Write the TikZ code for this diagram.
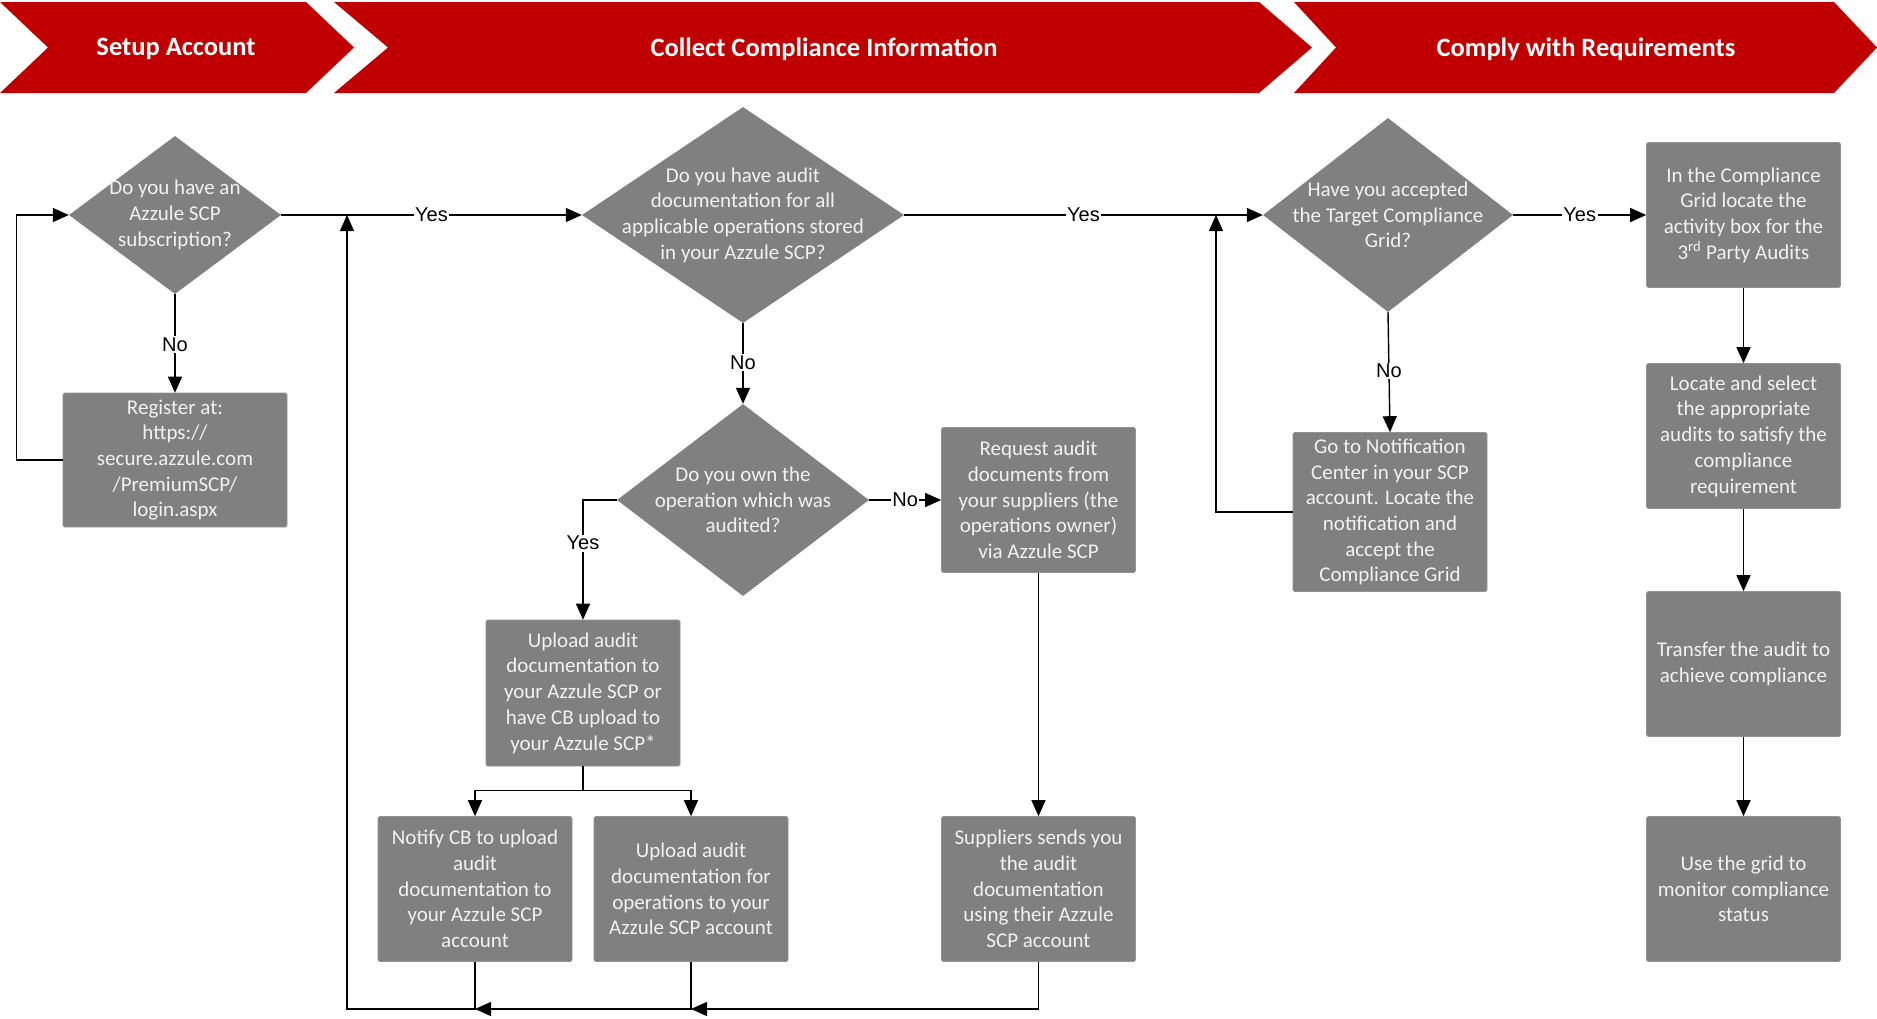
\documentclass[tikz,border=0pt]{standalone}
\usepackage{fontspec}
\setmainfont{Carlito}
\newfontfamily\lblfont{Liberation Sans}
\usetikzlibrary{arrows.meta,shapes.geometric}
\definecolor{hdr}{RGB}{192,0,0}
\definecolor{boxgray}{RGB}{128,128,128}
\definecolor{boxtxt}{RGB}{242,242,242}
\begin{document}
\begin{tikzpicture}[x=1pt,y=-1pt,
  conn/.style={line width=1.4pt, draw=black},
  arr/.style={conn, -{Triangle[length=16pt,width=14pt]}},
  proc/.style={rectangle, rounded corners=1.5pt, fill=boxgray, draw=gray!85, line width=0.6pt, minimum width=194pt, minimum height=145pt, inner sep=0pt, align=center, text=boxtxt, font=\fontsize{21}{25.7}\selectfont},
  dia/.style={diamond, fill=boxgray, inner sep=0pt},
  dtxt/.style={align=center, text=boxtxt, font=\fontsize{21}{25.7}\selectfont},
  lbl/.style={fill=white, inner sep=1.5pt, font=\lblfont\fontsize{20}{23}\selectfont},
  chev/.style={fill=hdr},
  htxt/.style={text=white, font=\bfseries\fontsize{26.5}{30}\selectfont}
]
\useasboundingbox (0,0) rectangle (1877,1018);
\fill[white] (0,0) rectangle (1877,1018);

% header chevrons
\fill[chev] (0,2) -- (306,2) -- (354,47.5) -- (306,93) -- (0,93) -- (48,47.5) -- cycle;
\fill[chev] (334,2) -- (1259,2) -- (1312,47.5) -- (1259,93) -- (334,93) -- (388,47.5) -- cycle;
\fill[chev] (1294,2) -- (1834,2) -- (1877,47.5) -- (1834,93) -- (1294,93) -- (1336,47.5) -- cycle;
\node[htxt] (h1) at (176,49) {Setup Account};
\node[htxt] (h2) at (824,49) {Collect Compliance Information};
\node[htxt] (h3) at (1586,49) {Comply with Requirements};

% diamonds
\node[dia, minimum width=212pt, minimum height=158pt] (d1) at (175,215) {};
\node[dtxt] at (d1.center) {Do you have an\\Azzule SCP\\subscription?};
\node[dia, minimum width=322pt, minimum height=216pt] (d2) at (743,215) {};
\node[dtxt] at (d2.center) {Do you have audit\\documentation for all\\applicable operations stored\\in your Azzule SCP?};
\node[dia, minimum width=252pt, minimum height=192pt] (d3) at (743,500) {};
\node[dtxt] at (d3.center) {Do you own the\\operation which was\\audited?};
\node[dia, minimum width=250pt, minimum height=194pt] (d4) at (1388,215) {};
\node[dtxt] at (d4.center) {Have you accepted\\the Target Compliance\\Grid?};

% process boxes
\node[proc, minimum width=224pt, minimum height=134pt] (reg) at (175,460) {Register at:\\https://\\secure.azzule.com\\/PremiumSCP/\\login.aspx};
\node[proc] (req) at (1038.5,500) {Request audit\\documents from\\your suppliers (the\\operations owner)\\via Azzule SCP};
\node[proc, minimum height=146pt] (upl) at (583,693) {Upload audit\\documentation to\\your Azzule SCP or\\have CB upload to\\your Azzule SCP*};
\node[proc] (ntf) at (475,889) {Notify CB to upload\\audit\\documentation to\\your Azzule SCP\\account};
\node[proc] (upl2) at (691,889) {Upload audit\\documentation for\\operations to your\\Azzule SCP account};
\node[proc] (sup) at (1038.5,889) {Suppliers sends you\\the audit\\documentation\\using their Azzule\\SCP account};
\node[proc, minimum height=159pt] (go) at (1390,512) {Go to Notification\\Center in your SCP\\account. Locate the\\notification and\\accept the\\Compliance Grid};
\node[proc] (grid) at (1743.5,215) {In the Compliance\\Grid locate the\\activity box for the\\3\textsuperscript{rd} Party Audits};
\node[proc] (loc) at (1743.5,436) {Locate and select\\the appropriate\\audits to satisfy the\\compliance\\requirement};
\node[proc] (trf) at (1743.5,664) {Transfer the audit to\\achieve compliance};
\node[proc] (use) at (1743.5,889) {Use the grid to\\monitor compliance\\status};

% junction coordinates
\coordinate (j1) at (347,215);
\coordinate (j2) at (1216,215);
\coordinate (b0) at (347,1009);

% connectors
\draw[arr] (d1.east) -- node[lbl, pos=0.5] {Yes} (d2.west);
\draw[arr] (d2.east) -- node[lbl, pos=0.5] {Yes} (d4.west);
\draw[arr] (d4.east) -- node[lbl, pos=0.5] {Yes} (grid.west);
\draw[arr] (d1.south) -- node[lbl, pos=0.51] {No} (reg.north);
\draw[arr] (d2.south) -- node[lbl, pos=0.49] {No} (d3.north);
\draw[arr] (d3.east) -- node[lbl, pos=0.5] {No} (req.west);
\draw[arr] (d4.south) -- node[lbl, pos=0.49] {No} (go.north);
\draw[arr] (d3.west) -| node[lbl, pos=0.68] {Yes} (upl.north);
\draw[arr] (reg.west) -- ++(-46,0) |- (d1.west);
\draw[arr] (go.west) -| (j2);
\draw[arr] (upl.south) -- ++(0,24) -| (ntf.north);
\draw[arr] (upl.south) -- ++(0,24) -| (upl2.north);
\draw[arr] (req.south) -- (sup.north);
\draw[arr] (sup.south) |- (upl2.south |- b0);
\draw[arr] (upl2.south) |- (ntf.south |- b0);
\draw[arr] (ntf.south) |- (b0) -- (j1);
\draw[arr] (grid.south) -- (loc.north);
\draw[arr] (loc.south) -- (trf.north);
\draw[arr] (trf.south) -- (use.north);
\end{tikzpicture}
\end{document}
